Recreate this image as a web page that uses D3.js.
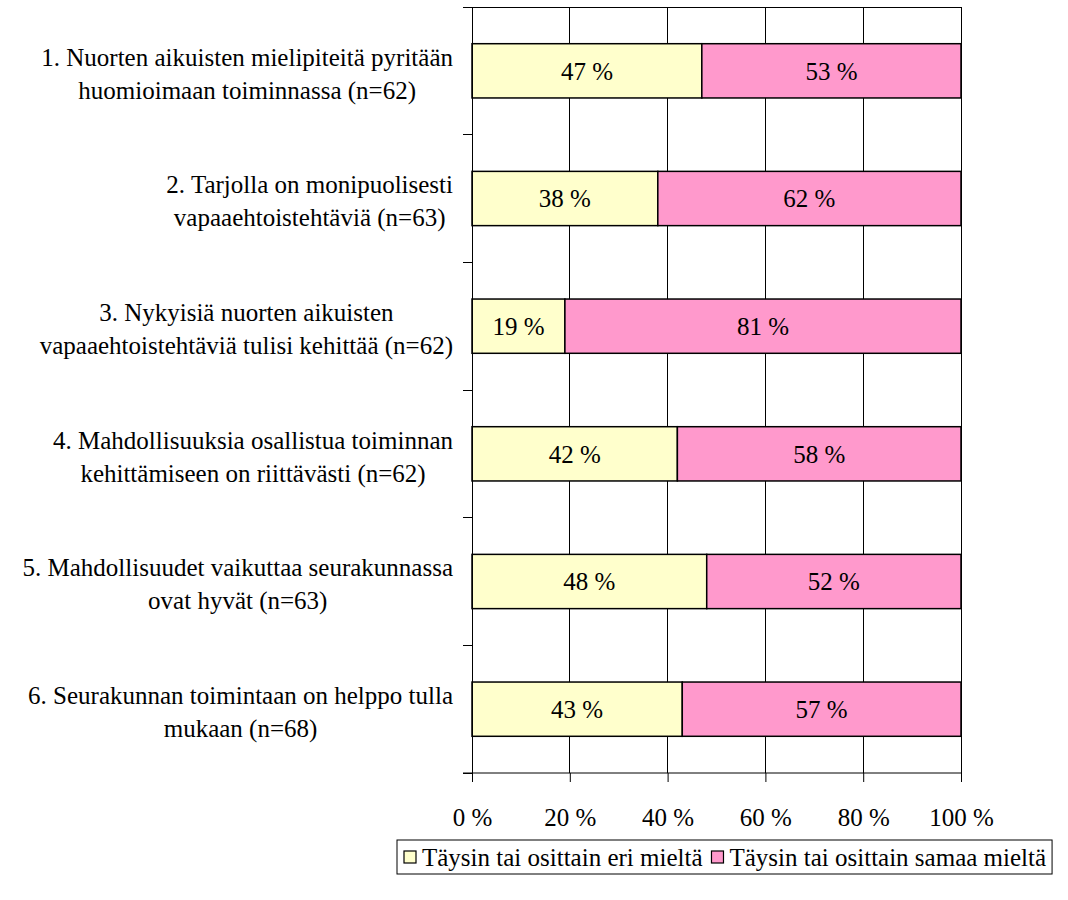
<!DOCTYPE html>
<html>
<head>
<meta charset="utf-8">
<script src="https://cdn.jsdelivr.net/npm/d3@7"></script>
<style>
  body { margin: 0; background: #fff; }
</style>
</head>
<body>
<svg id="chart" width="1068" height="900" font-family="Liberation Serif"></svg>
<script>
// statement labels, one array of lines per question
const questions = [
  ["1. Nuorten aikuisten mielipiteitä pyritään", "huomioimaan toiminnassa (n=62)"],
  ["2. Tarjolla on monipuolisesti", "vapaaehtoistehtäviä (n=63)"],
  ["3. Nykyisiä nuorten aikuisten", "vapaaehtoistehtäviä tulisi kehittää (n=62)"],
  ["4. Mahdollisuuksia osallistua toiminnan", "kehittämiseen on riittävästi (n=62)"],
  ["5. Mahdollisuudet vaikuttaa seurakunnassa", "ovat hyvät (n=63)"],
  ["6. Seurakunnan toimintaan on helppo tulla", "mukaan (n=68)"]
];
const disagree = [47, 38, 19, 42, 48, 43];
const agree = [53, 62, 81, 58, 52, 57];
const seriesNames = ["Täysin tai osittain eri mieltä", "Täysin tai osittain samaa mieltä"];
const seriesColors = ["#FFFFCC", "#FF99CC"];
const xTicks = [0, 20, 40, 60, 80, 100];

const svg = d3.select("#chart");
const plot = { left: 472, right: 961, top: 7, bottom: 773 };
const FONT = 25;
const FAMILY = "Liberation Serif";

var x = d3.scaleLinear().domain([0, 100]).range([plot.left, plot.right]);
var ids = questions.map((q, i) => i);
var y = d3.scaleBand().domain(ids).range([plot.top, plot.bottom])
  .paddingInner(0.575).paddingOuter(0.2875);

// stack the two series
var rows = ids.map(i => ({ i: i, a: disagree[i], b: agree[i] }));
var stacked = d3.stack().keys(["a", "b"])(rows);

// vertical gridlines
svg.append("g")
  .selectAll("line")
  .data(xTicks)
  .join("line")
  .attr("x1", d => x(d)).attr("x2", d => x(d))
  .attr("y1", plot.top).attr("y2", plot.bottom)
  .attr("stroke", "#000").attr("stroke-width", 1)
  .attr("shape-rendering", "crispEdges");

// top border
svg.append("line")
  .attr("x1", plot.left - 9).attr("x2", plot.right)
  .attr("y1", plot.top).attr("y2", plot.top)
  .attr("stroke", "#000").attr("shape-rendering", "crispEdges");

// bars
var layer = svg.append("g")
  .selectAll("g")
  .data(stacked)
  .join("g")
  .attr("fill", (d, k) => seriesColors[k]);

layer.selectAll("rect")
  .data(d => d)
  .join("rect")
  .attr("x", d => x(d[0]))
  .attr("width", d => x(d[1]) - x(d[0]))
  .attr("y", d => y(d.data.i))
  .attr("height", y.bandwidth())
  .attr("stroke", "#000")
  .attr("stroke-width", 1.5);

// value labels in the middle of each segment
layer.selectAll("text")
  .data(d => d)
  .join("text")
  .attr("x", d => (x(d[0]) + x(d[1])) / 2)
  .attr("y", d => y(d.data.i) + y.bandwidth() / 2)
  .attr("dy", "0.35em")
  .attr("text-anchor", "middle")
  .attr("fill", "#000")
  .attr("font-family", FAMILY)
  .attr("font-size", FONT)
  .text(d => (d[1] - d[0]) + " %");

// y axis line and tick marks between categories
var yAxis = svg.append("g").attr("stroke", "#000").attr("shape-rendering", "crispEdges");
yAxis.append("line")
  .attr("x1", plot.left).attr("x2", plot.left)
  .attr("y1", plot.top).attr("y2", plot.bottom);
yAxis.selectAll("line.tick")
  .data(d3.range(questions.length + 1))
  .join("line")
  .attr("class", "tick")
  .attr("x1", plot.left - 9).attr("x2", plot.left)
  .attr("y1", k => plot.top + k * y.step())
  .attr("y2", k => plot.top + k * y.step());

// x axis
var xAxis = svg.append("g")
  .attr("transform", "translate(0," + plot.bottom + ")")
  .call(d3.axisBottom(x).tickValues(xTicks).tickSize(9).tickPadding(26).tickFormat(d => d + " %"));
xAxis.attr("font-family", FAMILY).attr("font-size", FONT);
xAxis.select(".domain").attr("d", "M" + (plot.left - 9) + ",0H" + plot.right).attr("stroke", "#000");
xAxis.selectAll(".tick line").attr("stroke", "#000");
xAxis.selectAll("text").attr("fill", "#000");

// category labels, centered block ending at x = 453
var labelRight = 453;
var lineGap = 33;
questions.forEach(function (lines, i) {
  var cy = y(i) + y.bandwidth() / 2 + 2.5;
  var t = svg.append("text")
    .attr("text-anchor", "middle")
    .attr("fill", "#000")
    .attr("font-family", FAMILY)
    .attr("font-size", FONT);
  t.selectAll("tspan")
    .data(lines)
    .join("tspan")
    .attr("y", (d, k) => cy + (k - (lines.length - 1) / 2) * lineGap)
    .attr("dy", "0.35em")
    .text(d => d);
  var w = d3.max(t.selectAll("tspan").nodes(), n => n.getComputedTextLength());
  t.selectAll("tspan").attr("x", labelRight - w / 2);
});

// legend
var legend = svg.append("g");
var lgX = 397, lgY = 840, lgH = 34;
var lgBox = legend.append("rect")
  .attr("x", lgX).attr("y", lgY).attr("height", lgH)
  .attr("fill", "#fff").attr("stroke", "#000");
var cursor = lgX + 7;
seriesNames.forEach(function (name, k) {
  legend.append("rect")
    .attr("x", cursor).attr("y", lgY + lgH / 2 - 6)
    .attr("width", 12).attr("height", 12)
    .attr("fill", seriesColors[k]).attr("stroke", "#000").attr("stroke-width", 1.2);
  var txt = legend.append("text")
    .attr("x", cursor + 18).attr("y", lgY + lgH / 2)
    .attr("dy", "0.35em")
    .attr("fill", "#000")
    .attr("font-family", FAMILY)
    .attr("font-size", FONT)
    .text(name);
  cursor += 18 + txt.node().getComputedTextLength() + 9;
});
lgBox.attr("width", cursor - lgX - 3);
</script>
</body>
</html>
